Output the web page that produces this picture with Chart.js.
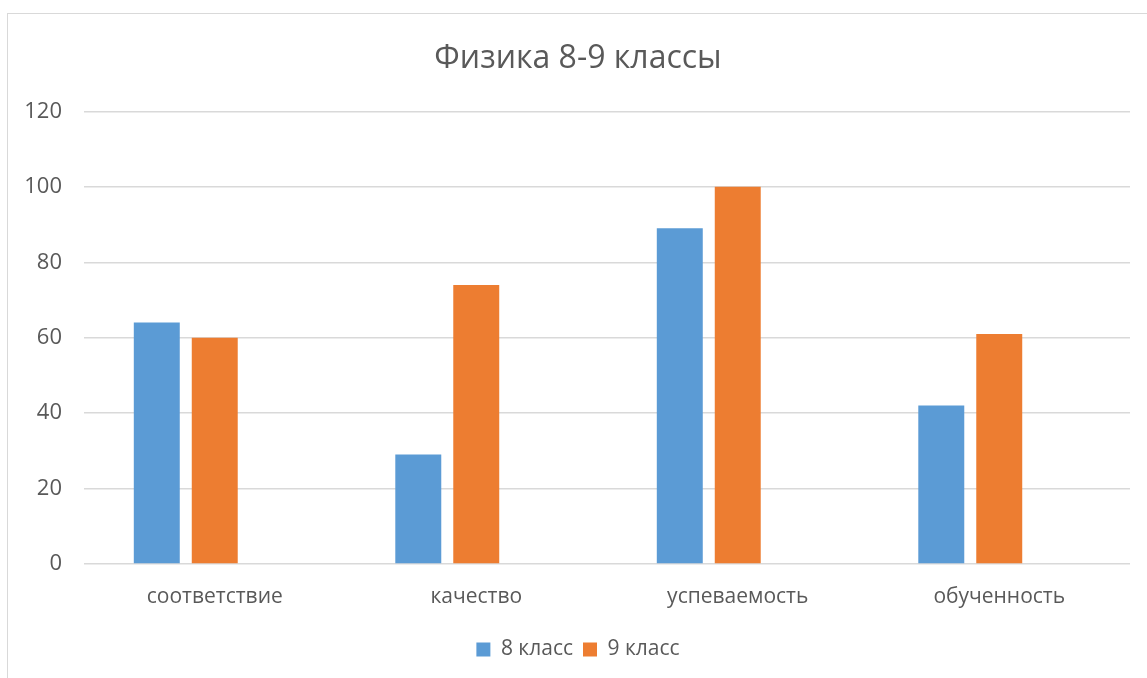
<!DOCTYPE html>
<html>
<head>
<meta charset="utf-8">
<script src="https://cdn.jsdelivr.net/npm/chart.js@4"></script>
<style>
    html, body { margin: 0; padding: 0; background: #fff; overflow: hidden; }
    body { width: 1147px; height: 678px; position: relative; }
    .frame {
        position: absolute; left: 7px; top: 13px;
        width: 1160px; height: 680px;
        border: 1px solid #d9d9d9; box-sizing: border-box;
    }
    canvas { display: block; }
</style>
</head>
<body>
<div class="frame"><canvas id="myChart"></canvas></div>
<script>
// Data
const categories = ["соответствие", "качество", "успеваемость", "обученность"];
const grade8 = [64, 29, 89, 42];
const grade9 = [60, 74, 100, 61];
const emptySeries = [null, null, null, null]; // third (empty) slot, as in the source sheet
const yTicks = [0, 20, 40, 60, 80, 100, 120];

const textColor = "#595959";
const gridColor = "#d9d9d9";
const font = "'Open Sans', sans-serif";

const ctx = document.getElementById("myChart");

new Chart(ctx, {
    type: "bar",
    data: {
        labels: categories,
        datasets: [
            { label: "8 класс", data: grade8, backgroundColor: "#5B9BD5" },
            { label: "9 класс", data: grade9, backgroundColor: "#ED7D31" },
            { label: "", data: emptySeries, backgroundColor: "transparent" }
        ]
    },
    options: {
        responsive: true,
        maintainAspectRatio: false,
        animation: false,
        categoryPercentage: 0.665,
        barPercentage: 0.793,
        layout: { padding: { left: 18, right: 36, top: 0, bottom: 22 } },
        plugins: {
            title: {
                display: true,
                text: "Физика 8-9 классы",
                color: textColor,
                font: { family: font, size: 32, weight: "normal" },
                padding: { top: 26, bottom: 33 }
            },
            legend: {
                position: "bottom",
                labels: {
                    color: textColor,
                    font: { family: font, size: 21 },
                    boxWidth: 14,
                    boxHeight: 14,
                    padding: 10,
                    filter: item => item.text !== ""
                }
            },
            tooltip: { enabled: false }
        },
        scales: {
            x: {
                grid: { display: false },
                border: { display: false },
                ticks: { color: textColor, font: { family: font, size: 21 }, padding: 12 },
                afterFit: scale => { scale.height = 65; }
            },
            y: {
                min: 0,
                max: 120,
                afterBuildTicks: scale => { scale.ticks = yTicks.map(v => ({ value: v })); },
                grid: { color: gridColor, lineWidth: 1.5, drawTicks: false },
                border: { display: false },
                ticks: { color: textColor, font: { family: font, size: 22 }, padding: 22 },
                afterFit: scale => { scale.width = 58; }
            }
        }
    }
});
</script>
</body>
</html>
